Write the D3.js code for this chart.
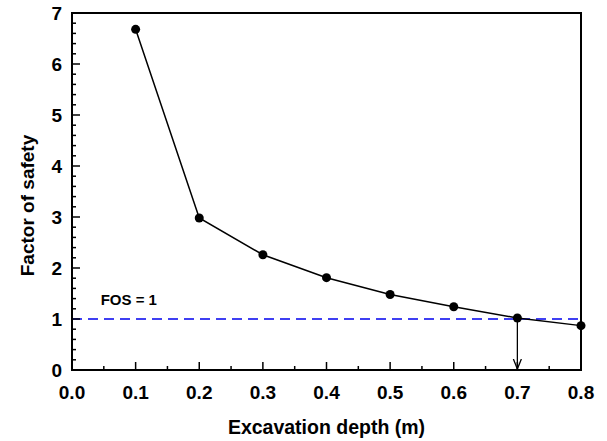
<!DOCTYPE html>
<html>
<head>
<meta charset="utf-8">
<script src="https://cdn.jsdelivr.net/npm/d3@7"></script>
<style>
  body { margin: 0; background: #fff; }
  text { font-family: "Liberation Sans", Arial, sans-serif; font-weight: bold; }
</style>
</head>
<body>
<div id="wrapper"></div>
<script>
// data
const depths = [0.1, 0.2, 0.3, 0.4, 0.5, 0.6, 0.7, 0.8];
const fos = [6.68, 2.98, 2.26, 1.81, 1.48, 1.24, 1.02, 0.87];
const xTicks = [0, 0.1, 0.2, 0.3, 0.4, 0.5, 0.6, 0.7, 0.8];
const yTicks = [0, 1, 2, 3, 4, 5, 6, 7];
const fosLimit = 1;
const criticalDepth = 0.7;

const dims = {
  width: 607,
  height: 441,
  margin: {top: 13, right: 26, bottom: 71, left: 72},
};
dims.boundedWidth = dims.width - dims.margin.left - dims.margin.right;
dims.boundedHeight = dims.height - dims.margin.top - dims.margin.bottom;

const svg = d3.select('#wrapper')
  .append('svg')
  .attr('width', dims.width)
  .attr('height', dims.height);

const defs = svg.append('defs');
defs.append('marker')
  .attr('id', 'arrow')
  .attr('viewBox', '0 0 10 10')
  .attr('refX', 10)
  .attr('refY', 5)
  .attr('markerWidth', 10)
  .attr('markerHeight', 10)
  .attr('markerUnits', 'userSpaceOnUse')
  .attr('orient', 'auto')
  .append('path')
  .attr('d', 'M0,1 L10,5 L0,9')
  .attr('fill', 'none')
  .attr('stroke', '#000')
  .attr('stroke-width', 1.3);

const bounds = svg.append('g')
  .attr('transform', `translate(${dims.margin.left},${dims.margin.top})`);

const x = d3.scaleLinear().domain([0, 0.8]).range([0, dims.boundedWidth]);
const y = d3.scaleLinear().domain([0, 7]).range([dims.boundedHeight, 0]);

// FOS = 1 dashed line
bounds.append('line')
  .attr('x1', x(0)).attr('x2', x(0.8))
  .attr('y1', y(fosLimit)).attr('y2', y(fosLimit))
  .attr('stroke', '#0000ee')
  .attr('stroke-width', 1.6)
  .attr('stroke-dasharray', '10,6');

bounds.append('text')
  .attr('x', x(0.045))
  .attr('y', y(fosLimit) - 14)
  .attr('font-size', 15)
  .text('FOS = 1');

// arrow down to the critical depth
bounds.append('line')
  .attr('x1', x(criticalDepth)).attr('x2', x(criticalDepth))
  .attr('y1', y(fos[depths.indexOf(criticalDepth)]))
  .attr('y2', y(0) - 1)
  .attr('stroke', '#000')
  .attr('stroke-width', 1.3)
  .attr('marker-end', 'url(#arrow)');

// curve
const line = d3.line().x((d, i) => x(depths[i])).y(d => y(d));
bounds.append('path')
  .datum(fos)
  .attr('d', line)
  .attr('fill', 'none')
  .attr('stroke', '#000')
  .attr('stroke-width', 1.5);

bounds.selectAll('.pt')
  .data(fos)
  .enter()
  .append('circle')
  .attr('class', 'pt')
  .attr('cx', (d, i) => x(depths[i]))
  .attr('cy', d => y(d))
  .attr('r', 4.5)
  .attr('fill', '#000');

// frame
bounds.append('rect')
  .attr('width', dims.boundedWidth)
  .attr('height', dims.boundedHeight)
  .attr('fill', 'none')
  .attr('stroke', '#000')
  .attr('stroke-width', 2);

// ticks, inward
const xMinor = d3.range(0.05, 0.8, 0.1);
const yMinor = d3.range(0, 7.001, 0.2).filter(v => Math.abs(v - Math.round(v)) > 0.01);

bounds.selectAll('.xmaj').data(xTicks.slice(1, -1)).enter().append('line')
  .attr('x1', d => x(d)).attr('x2', d => x(d))
  .attr('y1', y(0)).attr('y2', y(0) - 8)
  .attr('stroke', '#000').attr('stroke-width', 1.5);
bounds.selectAll('.xmin').data(xMinor).enter().append('line')
  .attr('x1', d => x(d)).attr('x2', d => x(d))
  .attr('y1', y(0)).attr('y2', y(0) - 4)
  .attr('stroke', '#000').attr('stroke-width', 1.5);
bounds.selectAll('.ymaj').data(yTicks.slice(1, -1)).enter().append('line')
  .attr('x1', 0).attr('x2', 8)
  .attr('y1', d => y(d)).attr('y2', d => y(d))
  .attr('stroke', '#000').attr('stroke-width', 1.5);
bounds.selectAll('.ymin').data(yMinor).enter().append('line')
  .attr('x1', 0).attr('x2', 4)
  .attr('y1', d => y(d)).attr('y2', d => y(d))
  .attr('stroke', '#000').attr('stroke-width', 1.5);

// tick labels
bounds.selectAll('.xl').data(xTicks).enter().append('text')
  .attr('x', d => x(d))
  .attr('y', y(0) + 29)
  .attr('text-anchor', 'middle')
  .attr('font-size', 19)
  .text(d3.format('.1f'));
bounds.selectAll('.yl').data(yTicks).enter().append('text')
  .attr('x', -10)
  .attr('y', d => y(d) + 7)
  .attr('text-anchor', 'end')
  .attr('font-size', 19)
  .text(d => d);

// axis titles
bounds.append('text')
  .attr('x', dims.boundedWidth / 2)
  .attr('y', dims.boundedHeight + 64)
  .attr('text-anchor', 'middle')
  .attr('font-size', 19.5)
  .text('Excavation depth (m)');
bounds.append('text')
  .attr('transform', `translate(${-38},${dims.boundedHeight / 2 + 14}) rotate(-90)`)
  .attr('text-anchor', 'middle')
  .attr('font-size', 19)
  .text('Factor of safety');
</script>
</body>
</html>
